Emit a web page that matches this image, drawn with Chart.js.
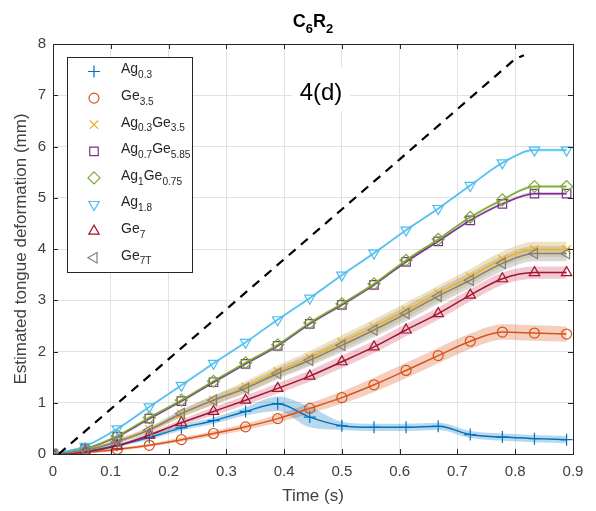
<!DOCTYPE html>
<html>
<head>
<meta charset="utf-8">
<script src="https://cdn.jsdelivr.net/npm/chart.js"></script>
<style>
html, body { margin: 0; padding: 0; background: #fff; }
#wrap { width: 596px; height: 511px; }
</style>
</head>
<body>
<div id="wrap"><canvas id="grafico" width="596" height="511"></canvas></div>
<script>
// tempos dos marcadores (s)
const tMarks = [0, 0.0556, 0.1111, 0.1667, 0.2222, 0.2778, 0.3333, 0.3889, 0.4444,
    0.5, 0.5556, 0.6111, 0.6667, 0.7222, 0.7778, 0.8333, 0.8889];

const ag03     = [0, 0.05, 0.17, 0.32, 0.51, 0.65, 0.83, 0.98, 0.72, 0.55, 0.52, 0.52, 0.54, 0.38, 0.33, 0.30, 0.28];
const ge35     = [0, 0.03, 0.09, 0.17, 0.28, 0.40, 0.53, 0.69, 0.89, 1.10, 1.35, 1.63, 1.92, 2.20, 2.38, 2.36, 2.34];
const ag03ge35 = [0, 0.07, 0.25, 0.48, 0.78, 1.05, 1.31, 1.61, 1.88, 2.18, 2.48, 2.80, 3.14, 3.46, 3.80, 3.99, 3.99];
const ag07ge585 = [0, 0.10, 0.34, 0.69, 1.03, 1.40, 1.76, 2.11, 2.54, 2.91, 3.30, 3.75, 4.15, 4.56, 4.88, 5.08, 5.08];
const ag1ge075 = [0, 0.10, 0.35, 0.71, 1.05, 1.42, 1.78, 2.13, 2.56, 2.93, 3.32, 3.78, 4.19, 4.62, 4.96, 5.22, 5.22];
const ag18     = [0, 0.15, 0.49, 0.92, 1.34, 1.77, 2.18, 2.62, 3.04, 3.49, 3.92, 4.37, 4.79, 5.24, 5.68, 5.93, 5.93];
const ge7      = [0, 0.04, 0.16, 0.37, 0.61, 0.83, 1.05, 1.28, 1.52, 1.80, 2.09, 2.42, 2.74, 3.10, 3.42, 3.54, 3.54];
const ge7t     = [0, 0.07, 0.24, 0.47, 0.79, 1.05, 1.28, 1.57, 1.83, 2.12, 2.42, 2.74, 3.08, 3.39, 3.72, 3.91, 3.91];

// meia largura da faixa sombreada de cada curva
const bandAg03     = [0.02, 0.03, 0.03, 0.04, 0.05, 0.06, 0.08, 0.14, 0.20, 0.08, 0.07, 0.07, 0.07, 0.07, 0.07, 0.07, 0.07];
const bandGe35     = [0.02, 0.02, 0.03, 0.03, 0.04, 0.05, 0.06, 0.08, 0.10, 0.12, 0.14, 0.15, 0.15, 0.15, 0.15, 0.15, 0.15];
const bandAg03Ge35 = [0.02, 0.03, 0.04, 0.05, 0.07, 0.09, 0.11, 0.12, 0.13, 0.14, 0.15, 0.15, 0.15, 0.15, 0.15, 0.15, 0.15];
const bandAg07     = [0.02, 0.02, 0.03, 0.03, 0.03, 0.03, 0.03, 0.03, 0.03, 0.03, 0.03, 0.03, 0.03, 0.03, 0.03, 0.03, 0.03];
const bandAg1      = [0.02, 0.02, 0.03, 0.03, 0.03, 0.03, 0.03, 0.03, 0.03, 0.03, 0.03, 0.03, 0.03, 0.03, 0.03, 0.03, 0.03];
const bandAg18     = [0.02, 0.02, 0.03, 0.03, 0.03, 0.03, 0.03, 0.03, 0.03, 0.03, 0.03, 0.03, 0.03, 0.03, 0.03, 0.03, 0.03];
const bandGe7      = [0.02, 0.02, 0.03, 0.05, 0.06, 0.08, 0.09, 0.10, 0.11, 0.12, 0.12, 0.12, 0.12, 0.12, 0.12, 0.12, 0.12];
const bandGe7T     = [0.02, 0.03, 0.04, 0.05, 0.07, 0.09, 0.10, 0.11, 0.12, 0.13, 0.14, 0.15, 0.15, 0.15, 0.15, 0.15, 0.15];

// linha tracejada de referencia
const dashT = [0.01, 0.2, 0.4, 0.6, 0.8, 0.815];
const dashY = [0, 1.85, 3.8, 5.75, 7.71, 7.78];

const xTicks = [0, 0.1, 0.2, 0.3, 0.4, 0.5, 0.6, 0.7, 0.8, 0.9];
const yTicks = [0, 1, 2, 3, 4, 5, 6, 7, 8];

const series = [
    { label: [["Ag"], ["0.3", 1]], data: ag03, band: bandAg03, color: "#0072BD", bandColor: "rgba(0,114,189,0.28)", style: "cross", rot: 0 },
    { label: [["Ge"], ["3.5", 1]], data: ge35, band: bandGe35, color: "#D95319", bandColor: "rgba(217,83,25,0.28)", style: "circle", rot: 0 },
    { label: [["Ag"], ["0.3", 1], ["Ge"], ["3.5", 1]], data: ag03ge35, band: bandAg03Ge35, color: "#EDB120", bandColor: "rgba(200,160,60,0.30)", style: "crossRot", rot: 0 },
    { label: [["Ag"], ["0.7", 1], ["Ge"], ["5.85", 1]], data: ag07ge585, band: bandAg07, color: "#7E2F8E", bandColor: "rgba(126,47,142,0.25)", style: "rect", rot: 0 },
    { label: [["Ag"], ["1", 1], ["Ge"], ["0.75", 1]], data: ag1ge075, band: bandAg1, color: "#77AC30", bandColor: "rgba(119,172,48,0.25)", style: "rectRot", rot: 0 },
    { label: [["Ag"], ["1.8", 1]], data: ag18, band: bandAg18, color: "#4DBEEE", bandColor: "rgba(77,190,238,0.25)", style: "triangle", rot: 180 },
    { label: [["Ge"], ["7", 1]], data: ge7, band: bandGe7, color: "#A2142F", bandColor: "rgba(200,40,70,0.25)", style: "triangle", rot: 0 },
    { label: [["Ge"], ["7T", 1]], data: ge7t, band: bandGe7T, color: "#808080", bandColor: "rgba(128,128,128,0.30)", style: "triangle", rot: -90 }
];

const datasets = [];
series.forEach(function (s, i) {
    datasets.push({
        data: tMarks.map((t, k) => ({ x: t, y: s.data[k] })),
        borderColor: s.color,
        borderWidth: 1.5,
        pointStyle: s.style,
        pointRotation: s.rot,
        pointRadius: s.style === "circle" ? 5 : 6,
        pointBorderWidth: 1.2,
        pointBorderColor: s.color,
        pointBackgroundColor: "rgba(0,0,0,0)",
        cubicInterpolationMode: "monotone",
        fill: false,
        order: 8 - i
    });
});
series.forEach(function (s) {
    datasets.push({
        data: tMarks.map((t, k) => ({ x: t, y: s.data[k] + s.band[k] })),
        borderWidth: 0,
        pointRadius: 0,
        backgroundColor: s.bandColor,
        cubicInterpolationMode: "monotone",
        fill: "+1",
        order: 20
    });
    datasets.push({
        data: tMarks.map((t, k) => ({ x: t, y: s.data[k] - s.band[k] })),
        borderWidth: 0,
        pointRadius: 0,
        cubicInterpolationMode: "monotone",
        fill: false,
        order: 20
    });
});
datasets.push({
    data: dashT.map((t, k) => ({ x: t, y: dashY[k] })),
    borderColor: "#000",
    borderWidth: 2.2,
    borderDash: [9, 7],
    pointRadius: 0,
    fill: false,
    order: 0
});

const FONTE = "'Liberation Sans', Arial, sans-serif";

// texto com subscritos
function textoRico(ctx, parts, x, y, size, bold, center) {
    const peso = bold ? "bold " : "";
    let w = 0;
    parts.forEach(function (p) {
        ctx.font = peso + (p[1] ? size * 0.72 : size) + "px " + FONTE;
        w += ctx.measureText(p[0]).width;
    });
    let cx = center ? x - w / 2 : x;
    ctx.textBaseline = "middle";
    ctx.textAlign = "left";
    parts.forEach(function (p) {
        ctx.font = peso + (p[1] ? size * 0.72 : size) + "px " + FONTE;
        ctx.fillText(p[0], cx, p[1] ? y + size * 0.42 : y);
        cx += ctx.measureText(p[0]).width;
    });
    return w;
}

const decor = {
    id: "decor",
    afterDraw(chart) {
        const ctx = chart.ctx;
        const a = chart.chartArea;
        const xs = chart.scales.x, ys = chart.scales.y;
        ctx.save();
        // marcas internas
        ctx.strokeStyle = "#262626";
        ctx.lineWidth = 1;
        ctx.beginPath();
        xTicks.forEach(function (v) {
            const px = Math.round(xs.getPixelForValue(v)) + 0.5;
            ctx.moveTo(px, a.bottom); ctx.lineTo(px, a.bottom - 5);
            ctx.moveTo(px, a.top); ctx.lineTo(px, a.top + 5);
        });
        yTicks.forEach(function (v) {
            const py = Math.round(ys.getPixelForValue(v)) + 0.5;
            ctx.moveTo(a.left, py); ctx.lineTo(a.left + 5, py);
            ctx.moveTo(a.right, py); ctx.lineTo(a.right - 5, py);
        });
        ctx.stroke();
        ctx.strokeRect(Math.round(a.left) + 0.5, Math.round(a.top) + 0.5,
            Math.round(a.right - a.left), Math.round(a.bottom - a.top));

        // titulo
        ctx.fillStyle = "#000";
        textoRico(ctx, [["C"], ["6", 1], ["R"], ["2", 1]], (a.left + a.right) / 2, 22, 18, true, true);

        // rotulo 4(d)
        ctx.fillStyle = "#fff";
        ctx.fillRect(292, 67, 58, 46);
        ctx.fillStyle = "#000";
        ctx.font = "24px " + FONTE;
        ctx.textAlign = "center";
        ctx.textBaseline = "middle";
        ctx.fillText("4(d)", 321, 93);

        // legenda
        const lx = 67, ly = 57, lw = 125, lh = 215;
        ctx.fillStyle = "#fff";
        ctx.fillRect(lx, ly, lw, lh);
        ctx.strokeStyle = "#262626";
        ctx.lineWidth = 1;
        ctx.strokeRect(lx + 0.5, ly + 0.5, lw, lh);
        series.forEach(function (s, i) {
            const yy = 71.5 + i * 26.6;
            ctx.strokeStyle = s.color;
            ctx.fillStyle = "rgba(0,0,0,0)";
            ctx.lineWidth = 1.2;
            Chart.helpers.drawPoint(ctx, {
                pointStyle: s.style, rotation: s.rot,
                radius: s.style === "circle" ? 5 : 6, borderWidth: 1.2
            }, 94, yy);
            ctx.fillStyle = "#262626";
            textoRico(ctx, s.label, 121, yy - 2, 14, false, false);
        });
        ctx.restore();
    }
};

new Chart("grafico", {
    type: "line",
    data: { datasets: datasets },
    options: {
        responsive: false,
        animation: false,
        events: [],
        layout: { padding: { top: 44, right: 23, left: 0, bottom: 0 } },
        plugins: {
            legend: { display: false },
            title: { display: false },
            tooltip: { enabled: false }
        },
        scales: {
            x: {
                type: "linear",
                min: 0,
                max: 0.9,
                afterBuildTicks: function (s) { s.ticks = xTicks.map(v => ({ value: v })); },
                afterFit: function (s) { s.height = 57; },
                ticks: {
                    color: "#404040",
                    padding: 9,
                    font: { family: FONTE, size: 15 },
                    callback: v => (v === 0 ? "0" : v.toFixed(1))
                },
                grid: { color: "#e2e2e2", drawTicks: false },
                border: { display: true, color: "#262626" },
                title: {
                    display: true,
                    text: "Time (s)",
                    color: "#404040",
                    font: { family: FONTE, size: 17 },
                    padding: { top: 2, bottom: 4 }
                }
            },
            y: {
                min: 0,
                max: 8,
                afterBuildTicks: function (s) { s.ticks = yTicks.map(v => ({ value: v })); },
                afterFit: function (s) { s.width = 53; },
                ticks: {
                    color: "#404040",
                    padding: 7,
                    font: { family: FONTE, size: 15 }
                },
                grid: { color: "#e2e2e2", drawTicks: false },
                border: { display: true, color: "#262626" },
                title: {
                    display: true,
                    text: "Estimated tongue deformation (mm)",
                    color: "#404040",
                    font: { family: FONTE, size: 17 },
                    padding: { top: 11, bottom: 4 }
                }
            }
        }
    },
    plugins: [decor]
});
</script>
</body>
</html>
